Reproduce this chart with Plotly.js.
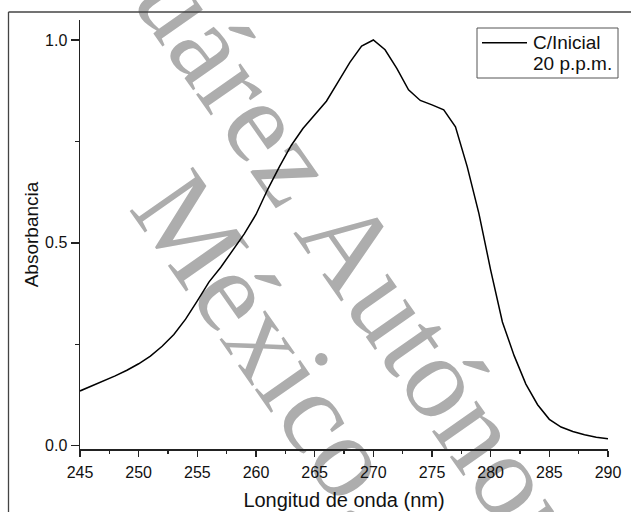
<!DOCTYPE html>
<html>
<head>
<meta charset="utf-8">
<script src="https://cdn.plot.ly/plotly-3.0.1.min.js"></script>
<style>
  html, body { margin: 0; padding: 0; background: #ffffff; }
  #wrap { position: relative; width: 631px; height: 512px; overflow: hidden; background: #ffffff; }
  #wm { position: absolute; left: 0; top: 0; width: 631px; height: 512px; overflow: hidden; z-index: 0; }
  .wmtext { position: absolute; transform-origin: 0 0; transform: rotate(55deg);
            font-family: 'Liberation Serif', 'Times New Roman', serif; font-size: 118px;
            letter-spacing: 1px; line-height: 1; white-space: nowrap; color: #adadad; }
  #chart { position: absolute; left: 0; top: 0; width: 631px; height: 512px; z-index: 1; }
</style>
</head>
<body>
<div id="wrap">
  <div id="wm">
    <span class="wmtext" style="left:183px; top:-95px;">Juárez Autónoma de Tabasco</span>
    <span class="wmtext" style="left:208px; top:152px;">México.</span>
  </div>
  <div id="chart"></div>
</div>
<script>
// Wavelength (nm)
const wavelength = [245,246,247,248,249,250,251,252,253,254,255,256,257,258,259,260,
  261,262,263,264,265,266,267,268,269,270,271,272,273,274,275,276,277,278,279,280,
  281,282,283,284,285,286,287,288,289,290];
// Absorbance, C/Inicial 20 p.p.m.
const absorbance = [0.135,0.147,0.159,0.172,0.186,0.202,0.221,0.245,0.274,0.312,0.357,0.404,
  0.440,0.480,0.522,0.570,0.632,0.688,0.740,0.782,0.815,0.849,0.897,0.945,0.985,1.000,
  0.976,0.930,0.877,0.851,0.840,0.828,0.786,0.688,0.572,0.433,0.305,0.222,0.152,0.101,
  0.065,0.046,0.035,0.027,0.021,0.017];

const xTicks = [245,250,255,260,265,270,275,280,285,290];
const yTicks = [0.0, 0.5, 1.0];
const yTickLabels = ['0.0','0.5','1.0'];
const seriesName = 'C/Inicial 20 p.p.m.';
const legendLine1 = 'C/Inicial';
const legendLine2 = '20 p.p.m.';

const FONT = 'Liberation Sans, Arial, sans-serif';
const axisColor = '#222222';

// plot area in pixels: x 80..608, y 20..449
const L = 80, R = 608, T = 20, B = 449;
const px = v => (v - L) / (R - L);
const py = v => (B - v) / (B - T);

const trace = {
  x: wavelength, y: absorbance, type: 'scatter', mode: 'lines',
  name: seriesName, line: { color: '#000000', width: 1.5, shape: 'linear' },
  showlegend: false, hoverinfo: 'skip'
};

const layout = {
  width: 631, height: 512,
  margin: { l: L, r: 631 - R, t: T, b: 512 - B, pad: 0 },
  paper_bgcolor: 'rgba(0,0,0,0)', plot_bgcolor: 'rgba(0,0,0,0)',
  font: { family: FONT, color: '#111111' },
  showlegend: false,
  xaxis: {
    range: [245, 290], tickmode: 'array', tickvals: xTicks,
    ticks: 'outside', ticklen: 6, tickwidth: 1.5, tickcolor: axisColor, ticklabelstandoff: 2,
    minor: { ticks: 'outside', ticklen: 3, tickwidth: 1.5, tickcolor: axisColor, tickmode: 'linear', tick0: 245, dtick: 2.5, showgrid: false },
    showline: true, linewidth: 1.5, linecolor: axisColor, mirror: false,
    showgrid: false, zeroline: false, automargin: false,
    tickfont: { family: FONT, size: 16, color: '#111111' },
    title: { text: 'Longitud de onda (nm)', font: { family: FONT, size: 20, color: '#111111' }, standoff: 13 }
  },
  yaxis: {
    range: [-0.0081, 1.0493], tickmode: 'array', tickvals: yTicks, ticktext: yTickLabels,
    ticks: 'outside', ticklen: 8, tickwidth: 1.5, tickcolor: axisColor,
    minor: { ticks: 'outside', ticklen: 4, tickwidth: 1.5, tickcolor: axisColor, tickmode: 'linear', tick0: 0, dtick: 0.25, showgrid: false },
    showline: true, linewidth: 1.5, linecolor: axisColor, mirror: false,
    showgrid: false, zeroline: false, automargin: false,
    tickfont: { family: FONT, size: 16, color: '#111111' },
    title: { text: 'Absorbancia', font: { family: FONT, size: 19, color: '#111111' }, standoff: 1 }
  },
  shapes: [
    // outer frame (top and left)
    { type: 'line', xref: 'paper', yref: 'paper', x0: px(8.5), x1: px(640), y0: py(12), y1: py(12), line: { color: '#444444', width: 1.3 } },
    { type: 'line', xref: 'paper', yref: 'paper', x0: px(8.5), x1: px(8.5), y0: py(12), y1: py(520), line: { color: '#444444', width: 1.3 } },
    // legend box
    { type: 'rect', xref: 'paper', yref: 'paper', x0: px(477), x1: px(618), y0: py(78), y1: py(28), line: { color: '#555555', width: 1 }, fillcolor: 'rgba(255,255,255,1)' },
    // legend line sample
    { type: 'line', xref: 'paper', yref: 'paper', x0: px(482), x1: px(527), y0: py(42.7), y1: py(42.7), line: { color: '#000000', width: 1.5 } }
  ],
  annotations: [
    { xref: 'paper', yref: 'paper', x: px(531), y: py(43), xanchor: 'left', yanchor: 'middle', text: legendLine1, showarrow: false, font: { family: FONT, size: 19, color: '#111111' } },
    { xref: 'paper', yref: 'paper', x: px(531), y: py(64), xanchor: 'left', yanchor: 'middle', text: legendLine2, showarrow: false, font: { family: FONT, size: 19, color: '#111111' } }
  ]
};

Plotly.newPlot('chart', [trace], layout, { displayModeBar: false, staticPlot: true });
</script>
</body>
</html>
